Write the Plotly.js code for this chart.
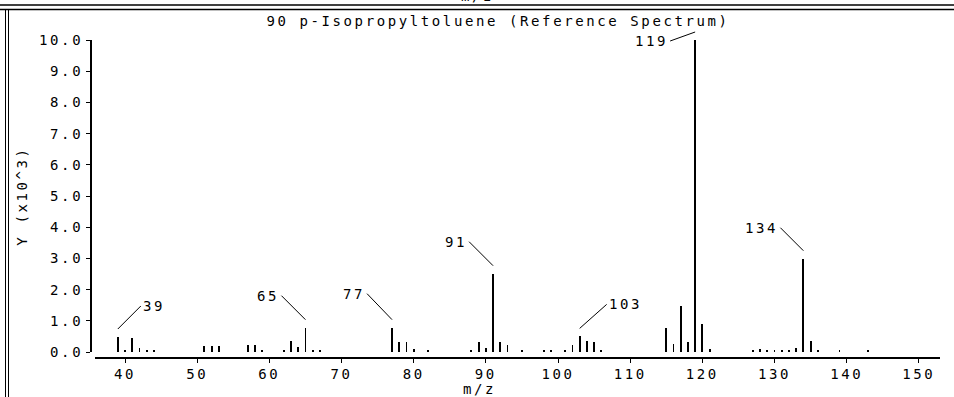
<!DOCTYPE html>
<html>
<head>
<meta charset="utf-8">
<script src="https://cdn.plot.ly/plotly-3.0.1.min.js"></script>
<style>
  html, body { margin: 0; padding: 0; background: #ffffff; }
  #chart { width: 954px; height: 397px; }
  text { letter-spacing: 2.6px; }
</style>
</head>
<body>
<div id="chart"></div>
<script>
// ---- data ----
const mz = [39, 40, 41, 42, 43, 44,
            51, 52, 53,
            57, 58, 59,
            62, 63, 64, 65, 66, 67,
            77, 78, 79, 80, 82,
            88, 89, 90, 91, 92, 93, 95,
            98, 99,
            101, 102, 103, 104, 105, 106,
            115, 116, 117, 118, 119, 120, 121,
            127, 128, 129, 130, 131, 132, 133, 134, 135, 136,
            139, 143];
const intensity = [0.48, 0.08, 0.46, 0.12, 0.06, 0.06,
                   0.18, 0.18, 0.18,
                   0.21, 0.21, 0.06,
                   0.06, 0.36, 0.16, 0.78, 0.08, 0.06,
                   0.78, 0.32, 0.32, 0.11, 0.06,
                   0.06, 0.31, 0.12, 2.51, 0.32, 0.24, 0.06,
                   0.06, 0.06,
                   0.06, 0.21, 0.50, 0.35, 0.33, 0.06,
                   0.78, 0.25, 1.46, 0.31, 10.0, 0.91, 0.11,
                   0.06, 0.11, 0.06, 0.06, 0.06, 0.06, 0.13, 2.99, 0.35, 0.06,
                   0.05, 0.05];
const labelMz = [39, 65, 77, 91, 103, 119, 134];
const xTickVals = [40, 50, 60, 70, 80, 90, 100, 110, 120, 130, 140, 150];
const yTickVals = [0, 1, 2, 3, 4, 5, 6, 7, 8, 9, 10];
const chartTitle = '90 p-Isopropyltoluene (Reference Spectrum)';
const xTitle = 'm/z';
const yTitle = 'Y (x10^3)';

// ---- geometry helpers (pixel -> paper) ----
const W = 954, H = 397, ML = 90, MR = 14, MT = 40, MB = 40;
const PW = W - ML - MR, PH = H - MT - MB;
const px = v => (v - ML) / PW;
const py = v => (H - MB - v) / PH;

const font = {family: 'DejaVu Sans Mono, Liberation Mono, monospace', size: 14, color: '#000'};

// label leader-line styles (pixel offsets)
const labelStyle = {
  39:  {ax: 23,  ay: -23, xanchor: 'left'},
  65:  {ax: -24, ay: -24, xanchor: 'right'},
  77:  {ax: -25, ay: -26, xanchor: 'right'},
  91:  {ax: -24, ay: -24, xanchor: 'right'},
  103: {ax: 27,  ay: -24, xanchor: 'left'},
  119: {ax: -25, ay: 9,   xanchor: 'right'},
  134: {ax: -23, ay: -23, xanchor: 'right'}
};

const annotations = labelMz.map(m => {
  const s = labelStyle[m];
  return {
    x: m, y: intensity[mz.indexOf(m)], xref: 'x', yref: 'y',
    text: String(m), showarrow: true, arrowhead: 0, arrowwidth: 1, arrowcolor: '#000',
    standoff: 0, yshift: 8, ax: s.ax, ay: s.ay, axref: 'pixel', ayref: 'pixel',
    xanchor: s.xanchor, yanchor: 'middle', font: font
  };
});
// bottom axis title (centred as in the reference)
annotations.push({xref: 'paper', yref: 'paper', x: px(479), y: py(397), text: xTitle,
  showarrow: false, xanchor: 'center', yanchor: 'bottom', borderpad: 0, borderwidth: 0,
  font: font});
// clipped axis title from the panel above
annotations.push({xref: 'paper', yref: 'paper', x: px(477), y: py(-4), text: xTitle,
  showarrow: false, xanchor: 'center', yanchor: 'middle', font: font});

const line = (x0, y0, x1, y1, w) => ({type: 'line', xref: 'paper', yref: 'paper',
  x0: px(x0), y0: py(y0), x1: px(x1), y1: py(y1), line: {color: '#000', width: w}});
const shapes = [
  line(0, 5, 954, 5, 1.5),
  line(0, 9.5, 954, 9.5, 1.5),
  line(5.5, 9.5, 5.5, 397, 1),
  line(8.5, 9.5, 8.5, 397, 1)
];

const trace = {
  type: 'bar', x: mz, y: intensity, width: 0.26,
  marker: {color: '#000', line: {width: 0}}, hoverinfo: 'skip'
};

const layout = {
  width: W, height: H,
  margin: {l: ML, r: MR, t: MT, b: MB, pad: 0},
  paper_bgcolor: '#fff', plot_bgcolor: '#fff',
  showlegend: false, font: font, bargap: 0,
  title: {text: chartTitle, font: font, xref: 'container', yref: 'container',
          x: 498 / W, xanchor: 'center', y: 1 - 21 / H, yanchor: 'middle'},
  xaxis: {
    range: [35.84, 152.93], domain: [5 / PW, 1], anchor: 'free', position: 0,
    tickvals: xTickVals, ticks: 'outside', ticklen: 4, tickcolor: '#000', tickwidth: 1,
    showline: true, linecolor: '#000', linewidth: 1.5,
    showgrid: false, zeroline: false, tickfont: font
  },
  yaxis: {
    range: [0, 10], domain: [5 / PH, 1], anchor: 'free', position: 0,
    tickvals: yTickVals, tickformat: '.1f', ticks: 'outside', ticklen: 4,
    tickcolor: '#000', tickwidth: 1,
    showline: true, linecolor: '#000', linewidth: 1.5,
    showgrid: false, zeroline: false, tickfont: font,
    title: {text: yTitle, font: font, standoff: 6}
  },
  annotations: annotations,
  shapes: shapes
};

Plotly.newPlot('chart', [trace], layout, {displayModeBar: false, staticPlot: true});
</script>
</body>
</html>
